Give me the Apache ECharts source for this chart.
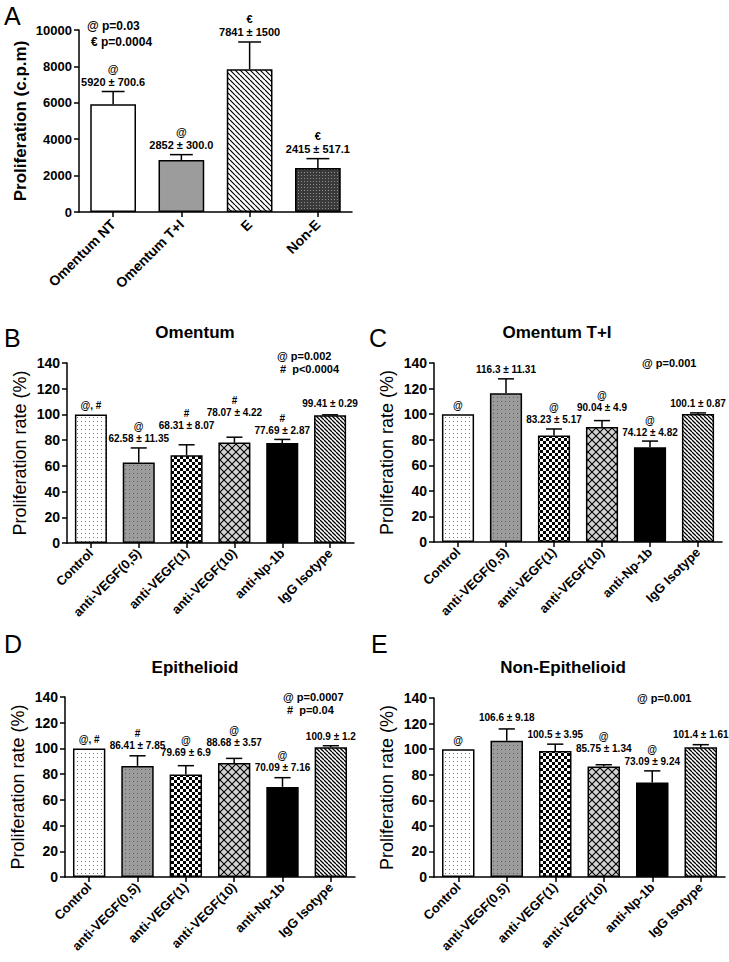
<!DOCTYPE html>
<html>
<head>
<meta charset="utf-8">
<script src="https://cdn.jsdelivr.net/npm/echarts@6.0.0/dist/echarts.min.js"></script>
<style>
  html, body { margin: 0; padding: 0; background: #fff; }
  #chart { width: 729px; height: 962px; }
</style>
</head>
<body>
<div id="chart"></div>
<script>
// ---- data ----
const categoriesA = ['Omentum NT', 'Omentum T+I', 'E', 'Non-E'];
const valuesA = [5920, 2852, 7841, 2415];
const errorsA = [700.6, 300.0, 1500, 517.1];
const marksA = ['@', '@', '€', '€'];
const labelsA = ['5920 ± 700.6', '2852 ± 300.0', '7841 ± 1500', '2415 ± 517.1'];
const ticksA = [0, 2000, 4000, 6000, 8000, 10000];

const treatments = ['Control', 'anti-VEGF(0,5)', 'anti-VEGF(1)', 'anti-VEGF(10)', 'anti-Np-1b', 'IgG Isotype'];
const ticksRate = [0, 20, 40, 60, 80, 100, 120, 140];

// B: Omentum
const valuesB = [100, 62.58, 68.31, 78.07, 77.69, 99.41];
const errorsB = [0, 11.35, 8.07, 4.22, 2.87, 0.29];
const marksB = ['@, #', '@', '#', '#', '#', ''];
const labelsB = ['', '62.58 ± 11.35', '68.31 ± 8.07', '78.07 ± 4.22', '77.69 ± 2.87', '99.41 ± 0.29'];

// C: Omentum T+I
const valuesC = [100, 116.3, 83.23, 90.04, 74.12, 100.1];
const errorsC = [0, 11.31, 5.17, 4.9, 4.82, 0.87];
const marksC = ['@', '', '@', '@', '@', ''];
const labelsC = ['', '116.3 ± 11.31', '83.23 ± 5.17', '90.04 ± 4.9', '74.12 ± 4.82', '100.1 ± 0.87'];

// D: Epithelioid
const valuesD = [100, 86.41, 79.69, 88.68, 70.09, 100.9];
const errorsD = [0, 7.85, 6.9, 3.57, 7.16, 1.2];
const marksD = ['@, #', '#', '@', '@', '@', ''];
const labelsD = ['', '86.41 ± 7.85', '79.69 ± 6.9', '88.68 ± 3.57', '70.09 ± 7.16', '100.9 ± 1.2'];

// E: Non-Epithelioid
const valuesE = [100, 106.6, 98.5, 86.5, 74, 101.5];
const errorsE = [0, 9.2, 5.4, 1.3, 9, 2];
const marksE = ['@', '', '', '@', '@', ''];
const labelsE = ['', '106.6 ± 9.18', '100.5 ± 3.95', '85.75 ± 1.34', '73.09 ± 9.24', '101.4 ± 1.61'];

// ---- layout / style ----
const FONT = '"Liberation Sans", Arial, sans-serif';
// extra lift (px) of the labels that were staggered in the figure
const liftB = [0, 0, 10, 16, 0, 2];
const liftC = [0, 0, 0, 4, 0, 0];
const liftD = [0, 1, 4, 7, 1, 0];
const liftE = [0, 2, 1, 7, 0, 1];
const liftA = [0, 0, 0, 0];

function makePattern(w, h, draw) {
  const c = document.createElement('canvas');
  c.width = w; c.height = h;
  const ctx = c.getContext('2d');
  draw(ctx, w, h);
  return { image: c, repeat: 'repeat', imageWidth: w, imageHeight: h };
}

const dotsWhite = makePattern(4, 4, (ctx, w, h) => {
  ctx.fillStyle = '#fff'; ctx.fillRect(0, 0, w, h);
  ctx.fillStyle = '#7a7a7a'; ctx.fillRect(1, 1, 1, 1);
});
const dotsGray = makePattern(4, 4, (ctx, w, h) => {
  ctx.fillStyle = '#9c9c9c'; ctx.fillRect(0, 0, w, h);
  ctx.fillStyle = '#5e5e5e'; ctx.fillRect(1, 1, 1, 1);
});
const checker = makePattern(6, 6, (ctx, w, h) => {
  ctx.fillStyle = '#fff'; ctx.fillRect(0, 0, w, h);
  ctx.fillStyle = '#000'; ctx.fillRect(0, 0, 3, 3); ctx.fillRect(3, 3, 3, 3);
});
const crossHatch = makePattern(8, 8, (ctx, w, h) => {
  ctx.fillStyle = '#d2d2d2'; ctx.fillRect(0, 0, w, h);
  ctx.strokeStyle = '#000'; ctx.lineWidth = 1.1;
  ctx.beginPath();
  ctx.moveTo(-1, -1); ctx.lineTo(w + 1, h + 1);
  ctx.moveTo(w + 1, -1); ctx.lineTo(-1, h + 1);
  ctx.stroke();
});
function diagonal(step, lw) {
  return makePattern(step, step, (ctx, w, h) => {
    ctx.fillStyle = '#fff'; ctx.fillRect(0, 0, w, h);
    ctx.strokeStyle = '#000'; ctx.lineWidth = lw;
    ctx.beginPath();
    for (let k = -w; k <= w; k += w) { ctx.moveTo(k, 0); ctx.lineTo(k + w, h); }
    ctx.stroke();
  });
}
const diagDense = diagonal(4, 1.3);
const diagWide = diagonal(5, 1.2);
const darkDots = makePattern(3, 3, (ctx, w, h) => {
  ctx.fillStyle = '#3a3a3a'; ctx.fillRect(0, 0, w, h);
  ctx.fillStyle = '#8c8c8c'; ctx.fillRect(1, 1, 1, 1);
});

const fillsA = ['#ffffff', '#9c9c9c', diagWide, darkDots];
const fillsRate = [dotsWhite, dotsGray, checker, crossHatch, '#000000', diagDense];

const grids = [
  { left: 79, top: 30, width: 273, height: 182 },
  { left: 67, top: 363, width: 287, height: 180 },
  { left: 434, top: 363, width: 288, height: 179 },
  { left: 65, top: 697, width: 290, height: 180 },
  { left: 434, top: 698, width: 291, height: 179 }
];

function xAxisFor(gridIndex, cats, fontSize, margin) {
  return {
    type: 'category', gridIndex, data: cats,
    axisLine: { show: true, onZero: false, lineStyle: { color: '#000', width: 1.5 } },
    axisTick: { show: true, alignWithLabel: true, length: 5, lineStyle: { color: '#000', width: 1.5 } },
    axisLabel: { interval: 0, rotate: 45, margin, color: '#000', fontWeight: 'bold', fontSize, fontFamily: FONT },
    splitLine: { show: false }
  };
}
function yAxisFor(gridIndex, ticks, name, nameGap, nameWeight, nameSize, tickSize) {
  return {
    type: 'value', gridIndex,
    min: ticks[0], max: ticks[ticks.length - 1], interval: ticks[1] - ticks[0],
    name, nameLocation: 'middle', nameRotate: 90, nameGap,
    nameTextStyle: { color: '#000', fontSize: nameSize, fontWeight: nameWeight, fontFamily: FONT },
    axisLine: { show: true, lineStyle: { color: '#000', width: 1.5 } },
    axisTick: { show: true, length: 5, lineStyle: { color: '#000', width: 1.5 } },
    axisLabel: { color: '#000', fontWeight: 'bold', fontSize: tickSize, margin: 7, fontFamily: FONT,
      formatter: v => String(v) },
    splitLine: { show: false }
  };
}

function barSeries(gridIndex, values, fills) {
  return {
    type: 'bar', xAxisIndex: gridIndex, yAxisIndex: gridIndex,
    barWidth: '67%', silent: true,
    itemStyle: { borderColor: '#000', borderWidth: 1.5 },
    data: values.map((v, i) => ({ value: v, itemStyle: { color: fills[i] } }))
  };
}

function errorSeries(gridIndex, values, errors, marks, labels, lifts, fontSize, lineH) {
  return {
    type: 'custom', xAxisIndex: gridIndex, yAxisIndex: gridIndex, z: 10, silent: true,
    data: values.map((v, i) => [i, v, errors[i]]),
    renderItem: (params, api) => {
      const i = api.value(0), v = api.value(1), e = api.value(2);
      const base = api.coord([i, v]);
      const top = api.coord([i, v + e]);
      const half = api.size([1, 0])[0] * 0.67 / 4;
      const children = [];
      if (e > 0) {
        children.push({ type: 'line', shape: { x1: base[0], y1: base[1], x2: top[0], y2: top[1] },
          style: { stroke: '#000', lineWidth: 1.5 } });
        children.push({ type: 'line', shape: { x1: top[0] - half, y1: top[1], x2: top[0] + half, y2: top[1] },
          style: { stroke: '#000', lineWidth: 1.5 } });
      }
      const txt = [marks[i], labels[i]].filter(s => s).join('\n');
      if (txt) {
        children.push({ type: 'text', style: {
          text: txt, x: top[0], y: top[1] - 3 - lifts[i], align: 'center', verticalAlign: 'bottom',
          fontSize, fontWeight: 'bold', fontFamily: FONT, lineHeight: lineH, fill: '#000' } });
      }
      return { type: 'group', children };
    }
  };
}

function txt(x, y, text, size, weight, align) {
  return { type: 'text', x, y, silent: true, style: {
    text, fill: '#000', fontSize: size, fontWeight: weight, fontFamily: FONT,
    align: align || 'left', verticalAlign: 'middle' } };
}

const chart = echarts.init(document.getElementById('chart'), null, { renderer: 'svg' });

chart.setOption({
  animation: false,
  backgroundColor: '#fff',
  grid: grids.map(g => Object.assign({ outerBoundsMode: 'none', containLabel: false }, g)),
  xAxis: [
    xAxisFor(0, categoriesA, 14, 10),
    xAxisFor(1, treatments, 13, 8),
    xAxisFor(2, treatments, 13, 8),
    xAxisFor(3, treatments, 13, 8),
    xAxisFor(4, treatments, 13, 8)
  ],
  yAxis: [
    yAxisFor(0, ticksA, 'Proliferation (c.p.m)', 50, 'bold', 17, 13),
    yAxisFor(1, ticksRate, 'Proliferation rate (%)', 38, 'normal', 18, 14),
    yAxisFor(2, ticksRate, 'Proliferation rate (%)', 38, 'normal', 18, 14),
    yAxisFor(3, ticksRate, 'Proliferation rate (%)', 38, 'normal', 18, 14),
    yAxisFor(4, ticksRate, 'Proliferation rate (%)', 38, 'normal', 18, 14)
  ],
  series: [
    barSeries(0, valuesA, fillsA),
    errorSeries(0, valuesA, errorsA, marksA, labelsA, liftA, 11, 13),
    barSeries(1, valuesB, fillsRate),
    errorSeries(1, valuesB, errorsB, marksB, labelsB, liftB, 10, 12),
    barSeries(2, valuesC, fillsRate),
    errorSeries(2, valuesC, errorsC, marksC, labelsC, liftC, 10, 12),
    barSeries(3, valuesD, fillsRate),
    errorSeries(3, valuesD, errorsD, marksD, labelsD, liftD, 10, 12),
    barSeries(4, valuesE, fillsRate),
    errorSeries(4, valuesE, errorsE, marksE, labelsE, liftE, 10, 12)
  ],
  graphic: [
    txt(4, 16, 'A', 25, 'normal'),
    txt(4, 338, 'B', 25, 'normal'),
    txt(369, 338, 'C', 25, 'normal'),
    txt(4, 644, 'D', 25, 'normal'),
    txt(371, 644, 'E', 25, 'normal'),
    txt(195, 332, 'Omentum', 17, 'bold', 'center'),
    txt(557, 332, 'Omentum T+I', 17, 'bold', 'center'),
    txt(195, 667, 'Epithelioid', 17, 'bold', 'center'),
    txt(563, 667, 'Non-Epithelioid', 17, 'bold', 'center'),
    txt(87, 26, '@ p=0.03', 12, 'bold'),
    txt(91, 42, '€ p=0.0004', 12, 'bold'),
    txt(277, 356, '@ p=0.002', 11, 'bold'),
    txt(280, 369, '#  p<0.0004', 11, 'bold'),
    txt(642, 363, '@ p=0.001', 11, 'bold'),
    txt(283, 697, '@ p=0.0007', 11, 'bold'),
    txt(287, 710, '#  p=0.04', 11, 'bold'),
    txt(637, 698, '@ p=0.001', 11, 'bold')
  ]
});
</script>
</body>
</html>
